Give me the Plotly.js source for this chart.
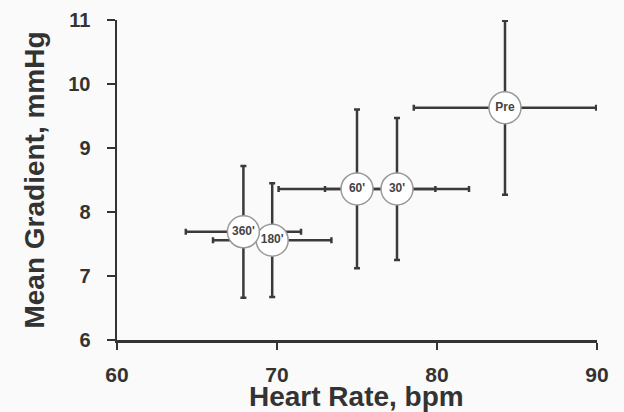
<!DOCTYPE html>
<html><head><meta charset="utf-8">
<script src="https://cdn.plot.ly/plotly-3.0.1.min.js"></script>
<style>html,body{margin:0;padding:0;background:#fafafa;}#chart{width:624px;height:412px;}</style>
</head><body><div id="chart"></div>
<script>
const labels = ["Pre", "30'", "60'", "180'", "360'"];
const heartRate = [84.25, 77.5, 75.0, 69.7, 67.9];
const heartRateErr = [5.7, 4.5, 4.9, 3.7, 3.6];
const gradient = [9.63, 8.36, 8.36, 7.56, 7.69];
const gradientErr = [1.36, 1.11, 1.24, 0.89, 1.03];
const xTicks = [60, 70, 80, 90];
const yTicks = [6, 7, 8, 9, 10, 11];
const xTitle = 'Heart Rate, bpm';
const yTitle = 'Mean Gradient, mmHg';

const trace = {
  type: 'scatter', mode: 'markers+text',
  x: heartRate, y: gradient, text: labels,
  textposition: 'middle center',
  textfont: {family: 'Liberation Sans, Arial', size: 12, color: '#444', weight: 'bold'},
  marker: {symbol: 'circle', size: 32, color: '#ffffff', line: {color: '#9a9a9a', width: 1.5}},
  error_x: {type: 'data', array: heartRateErr, visible: true, color: '#3a3a3a', thickness: 2.5, width: 3},
  error_y: {type: 'data', array: gradientErr, visible: true, color: '#3a3a3a', thickness: 2.5, width: 3},
  cliponaxis: false, hoverinfo: 'none'
};

const fontFam = 'Liberation Sans, Arial, sans-serif';
const layout = {
  width: 624, height: 412,
  margin: {l: 117, r: 27, t: 20, b: 72},
  paper_bgcolor: '#fafafa', plot_bgcolor: '#fafafa',
  showlegend: false,
  xaxis: {
    range: [60, 90], tickvals: xTicks, ticktext: xTicks.map(String),
    showgrid: false, zeroline: false, showline: true, linecolor: '#333', linewidth: 2.5,
    ticks: 'outside', ticklen: 7, tickwidth: 2, tickcolor: '#333',
    ticklabelstandoff: 7, automargin: false,
    tickfont: {family: fontFam, size: 21, color: '#333', weight: 'bold'}
  },
  yaxis: {
    range: [6, 11], tickvals: yTicks, ticktext: yTicks.map(String),
    showgrid: false, zeroline: false, showline: true, linecolor: '#333', linewidth: 2.5,
    ticks: 'outside', ticklen: 8, tickwidth: 2, tickcolor: '#333',
    ticklabelstandoff: 12, automargin: false,
    tickfont: {family: fontFam, size: 20, color: '#333', weight: 'bold'},
    title: {text: yTitle, font: {family: fontFam, size: 28, color: '#333', weight: 'bold'}, standoff: 16}
  },
  annotations: [{
    text: xTitle, xref: 'paper', yref: 'paper', x: 0.498, y: -0.176,
    xanchor: 'center', yanchor: 'middle', showarrow: false,
    font: {family: fontFam, size: 28, color: '#333', weight: 'bold'}
  }]
};
Plotly.newPlot('chart', [trace], layout, {displayModeBar: false, staticPlot: true});
</script></body></html>
